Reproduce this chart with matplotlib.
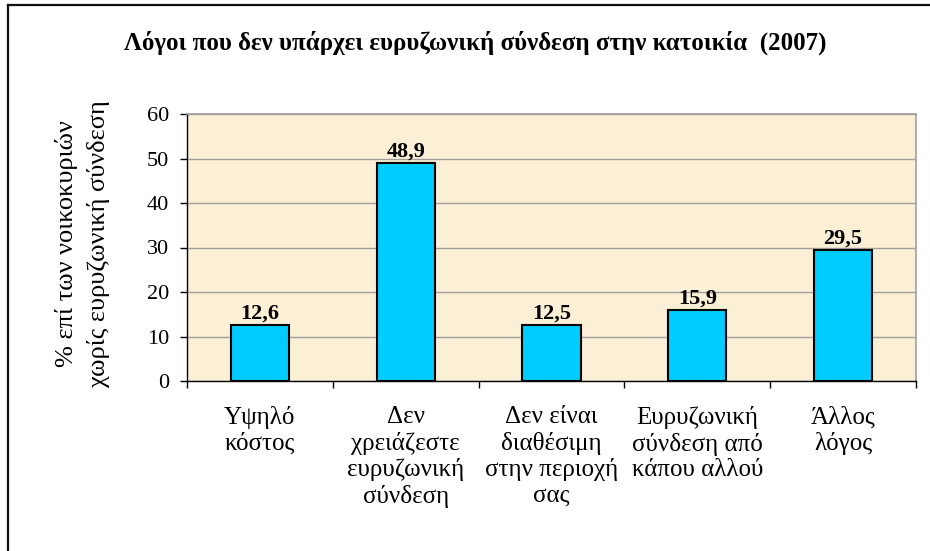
import matplotlib.pyplot as plt
from matplotlib.lines import Line2D

plt.rcParams['font.family'] = ['Liberation Serif', 'DejaVu Serif']

categories = ['Υψηλό\nκόστος',
              'Δεν\nχρειάζεστε\nευρυζωνική\nσύνδεση',
              'Δεν είναι\nδιαθέσιμη\nστην περιοχή\nσας',
              'Ευρυζωνική\nσύνδεση από\nκάπου αλλού',
              'Άλλος\nλόγος']
values = [12.6, 48.9, 12.5, 15.9, 29.5]
value_labels = ['12,6', '48,9', '12,5', '15,9', '29,5']
yticks = [0, 10, 20, 30, 40, 50, 60]

fig = plt.figure(figsize=(9.3, 5.51), dpi=100)
ax = fig.add_axes([187 / 930, 1 - 381 / 551, 729 / 930, 267 / 551])
ax.set_facecolor('#FBEFD6')

x = list(range(len(values)))
bars = ax.bar(x, values, width=0.4, color='#00CCFF', edgecolor='black',
              linewidth=1.5, zorder=3)

for b, lab in zip(bars, value_labels):
    ax.annotate(lab, (b.get_x() + b.get_width() / 2, b.get_height()),
                xytext=(0, 1), textcoords='offset points',
                ha='center', va='bottom', fontsize=16, fontweight='bold')

ax.set_xlim(-0.5, len(values) - 0.5)
ax.set_ylim(0, 60)
ax.set_yticks(yticks)
ax.yaxis.grid(True, color='#A0A0A0', linewidth=1, zorder=0)
ax.tick_params(axis='y', direction='out', length=5, width=1, labelsize=16, pad=8)

# category boundaries as ticks, labels at the centres
ax.set_xticks([i - 0.5 for i in range(len(values) + 1)])
ax.set_xticklabels([])
ax.tick_params(axis='x', which='major', direction='out', length=5, width=1)
ax.set_xticks(x, minor=True)
ax.set_xticklabels(categories, minor=True, fontsize=18, linespacing=1.2, va='top')
ax.tick_params(axis='x', which='minor', length=0, pad=18)

for s in ['top', 'right']:
    ax.spines[s].set_color('#A0A0A0')
    ax.spines[s].set_linewidth(1.2)
for s in ['left', 'bottom']:
    ax.spines[s].set_color('black')
    ax.spines[s].set_linewidth(1)

fig.text(83 / 930, 1 - 244 / 551, '% επί των νοικοκυριών\nχωρίς ευρυζωνική σύνδεση',
         rotation=90, ha='center', va='center', multialignment='center',
         fontsize=19, linespacing=1.5)

fig.text(475 / 930, 1 - 43 / 551,
         'Λόγοι που δεν υπάρχει ευρυζωνική σύνδεση στην κατοικία  (2007)',
         ha='center', va='center', fontsize=18, fontweight='bold')

# outer chart border (top and left only visible)
fig.add_artist(Line2D([8 / 930, 1], [1 - 5 / 551, 1 - 5 / 551], color='#111111', linewidth=1.6))
fig.add_artist(Line2D([8 / 930, 8 / 930], [0, 1 - 5 / 551], color='#111111', linewidth=1.6))

fig.savefig('out.png', dpi=100)
